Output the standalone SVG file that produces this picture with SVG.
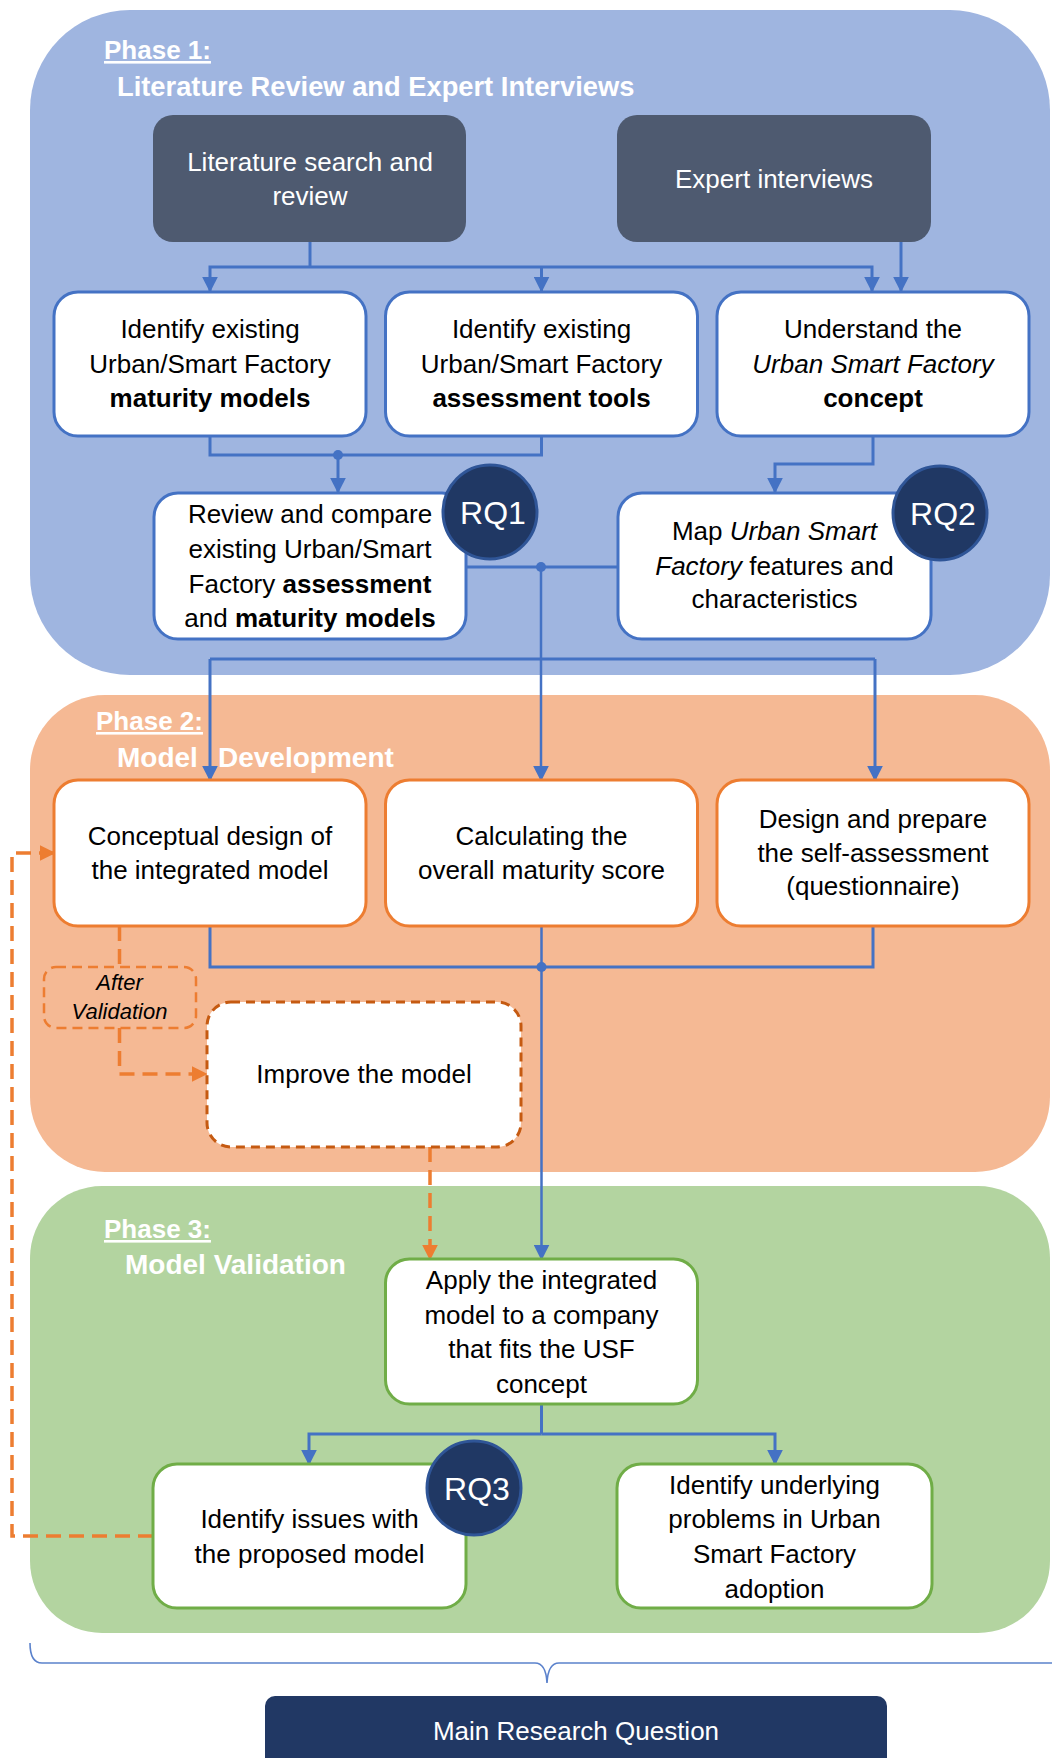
<svg xmlns="http://www.w3.org/2000/svg" width="1052" height="1758" viewBox="0 0 1052 1758">
<style>
.t{font-family:"Liberation Sans",Arial,sans-serif;font-size:26px;text-anchor:middle;fill:#000}
.w{fill:#fff}
.b{font-weight:bold}
.i{font-style:italic}
.ph{font-family:"Liberation Sans",Arial,sans-serif;font-weight:bold;fill:#fff;font-size:26px;text-decoration:underline}
.pt{font-family:"Liberation Sans",Arial,sans-serif;font-weight:bold;fill:#fff;font-size:28px}
.nb{fill:#fff;stroke:#4472C4;stroke-width:3}
.no{fill:#fff;stroke:#ED7D31;stroke-width:3}
.ng{fill:#fff;stroke:#70AD47;stroke-width:3}
.dk{fill:#4E5A70}
.rq{fill:#203864;stroke:#2F5597;stroke-width:3}
.rqt{font-family:"Liberation Sans",Arial,sans-serif;font-size:32px;text-anchor:middle;fill:#fff}
.cb{fill:none;stroke:#4472C4;stroke-width:3}
.cbt{fill:none;stroke:#4472C4;stroke-width:2.5}
.co{fill:none;stroke:#ED7D31;stroke-width:3.5;stroke-dasharray:15 8}
.dot{fill:#4472C4}
</style>
<defs>
<marker id="ab" viewBox="0 0 10 10" refX="9" refY="5" markerWidth="16" markerHeight="16" markerUnits="userSpaceOnUse" orient="auto"><path d="M0,0 L10,5 L0,10 z" fill="#4472C4"/></marker>
<marker id="ao" viewBox="0 0 10 10" refX="9" refY="5" markerWidth="16" markerHeight="16" markerUnits="userSpaceOnUse" orient="auto"><path d="M0,0 L10,5 L0,10 z" fill="#ED7D31"/></marker>
</defs>

<g id="phases">
<g id="phase1">
<rect x="30" y="10" width="1020" height="665" rx="100" fill="#9FB5E0"/>
<text class="ph" x="104" y="59">Phase 1:</text>
<text class="pt" x="117" y="96" style="font-size:27.3px">Literature Review and Expert Interviews</text>
</g>
<g id="phase2">
<rect x="30" y="695" width="1020" height="477" rx="75" fill="#F5B994"/>
<text class="ph" x="96" y="730">Phase 2:</text>
<text class="pt" x="117" y="767">Model <tspan x="218">Development</tspan></text>
</g>
<g id="phase3">
<rect x="30" y="1186" width="1020" height="447" rx="72" fill="#B3D4A0"/>
<text class="ph" x="104" y="1238">Phase 3:</text>
<text class="pt" x="125" y="1274">Model Validation</text>
</g>
</g>

<g id="connectors">
<path class="cb" d="M310 242 V267"/>
<path class="cb" d="M310 267 H210 V291" marker-end="url(#ab)"/>
<path class="cb" d="M310 267 H872 V291" marker-end="url(#ab)"/>
<path class="cb" d="M541.5 267 V291" marker-end="url(#ab)"/>
<path class="cb" d="M901 242 V291" marker-end="url(#ab)"/>
<path class="cb" d="M210 436 V455 H541.5 V436"/>
<circle class="dot" cx="338" cy="455" r="5"/>
<path class="cb" d="M338 455 V492" marker-end="url(#ab)"/>
<path class="cb" d="M873 436 V464 H775 V492" marker-end="url(#ab)"/>
<path class="cb" d="M466 567 H618"/>
<circle class="dot" cx="541" cy="567" r="5"/>
<path class="cbt" d="M541 567 V780" marker-end="url(#ab)"/>
<path class="cb" d="M210 659 H875"/>
<path class="cb" d="M210 659 V780" marker-end="url(#ab)"/>
<path class="cb" d="M875 659 V780" marker-end="url(#ab)"/>
<path class="cb" d="M210 926 V967 H873 V926"/>
<path class="cbt" d="M541.5 926 V967"/>
<circle class="dot" cx="541.5" cy="967" r="5"/>
<path class="cbt" d="M541.5 967 V1259" marker-end="url(#ab)"/>
<path class="cb" d="M541.5 1404 V1434"/>
<path class="cb" d="M541.5 1434 H309 V1464" marker-end="url(#ab)"/>
<path class="cb" d="M541.5 1434 H775 V1464" marker-end="url(#ab)"/>
<path class="co" d="M119.5 926 V967"/>
<path class="co" d="M119.5 1028 V1074 H206" marker-end="url(#ao)"/>
<path class="co" d="M430 1147 V1259" marker-end="url(#ao)"/>
<path class="co" d="M153 1536 H12 V853 H54" marker-end="url(#ao)"/>
<path d="M30 1643 Q30 1663 42 1663 H535 Q546 1663 547 1683 Q548 1663 559 1663 H1052" fill="none" stroke="#5B82CC" stroke-width="1.6"/>
</g>

<g id="lit-search">
<rect class="dk" x="153" y="115" width="313" height="127" rx="20"/>
<text class="t w" x="310" y="171">Literature search and</text>
<text class="t w" x="310" y="205">review</text>
</g>
<g id="expert-interviews">
<rect class="dk" x="617" y="115" width="314" height="127" rx="20"/>
<text class="t w" x="774" y="188">Expert interviews</text>
</g>

<g id="identify-maturity">
<rect class="nb" x="54" y="292" width="312" height="144" rx="24"/>
<text class="t" x="210" y="338">Identify existing</text>
<text class="t" x="210" y="373">Urban/Smart Factory</text>
<text class="t b" x="210" y="407">maturity models</text>
</g>
<g id="identify-tools">
<rect class="nb" x="385.5" y="292" width="312" height="144" rx="24"/>
<text class="t" x="541.5" y="338">Identify existing</text>
<text class="t" x="541.5" y="373">Urban/Smart Factory</text>
<text class="t b" x="541.5" y="407">assessment tools</text>
</g>
<g id="understand-usf">
<rect class="nb" x="717" y="292" width="312" height="144" rx="24"/>
<text class="t" x="873" y="338">Understand the</text>
<text class="t i" x="873" y="373">Urban Smart Factory</text>
<text class="t b" x="873" y="407">concept</text>
</g>

<g id="review-compare">
<rect class="nb" x="154" y="493" width="312" height="146" rx="24"/>
<text class="t" x="310" y="523">Review and compare</text>
<text class="t" x="310" y="558">existing Urban/Smart</text>
<text class="t" x="310" y="593">Factory <tspan class="b">assessment</tspan></text>
<text class="t" x="310" y="627">and <tspan class="b">maturity models</tspan></text>
</g>
<g id="rq1">
<circle class="rq" cx="490" cy="512" r="47"/>
<text class="rqt" x="493" y="524">RQ1</text>
</g>
<g id="map-usf">
<rect class="nb" x="618" y="493" width="313" height="146" rx="24"/>
<text class="t" x="774.5" y="540">Map <tspan class="i">Urban Smart</tspan></text>
<text class="t" x="774.5" y="575"><tspan class="i">Factory</tspan> features and</text>
<text class="t" x="774.5" y="608">characteristics</text>
</g>
<g id="rq2">
<circle class="rq" cx="940" cy="513" r="47"/>
<text class="rqt" x="943" y="525">RQ2</text>
</g>

<g id="conceptual-design">
<rect class="no" x="54" y="780" width="312" height="146" rx="24"/>
<text class="t" x="210" y="845">Conceptual design of</text>
<text class="t" x="210" y="879">the integrated model</text>
</g>
<g id="maturity-score">
<rect class="no" x="385.5" y="780" width="312" height="146" rx="24"/>
<text class="t" x="541.5" y="845">Calculating the</text>
<text class="t" x="541.5" y="879">overall maturity score</text>
</g>
<g id="self-assessment">
<rect class="no" x="717" y="780" width="312" height="146" rx="24"/>
<text class="t" x="873" y="828">Design and prepare</text>
<text class="t" x="873" y="862">the self-assessment</text>
<text class="t" x="873" y="895">(questionnaire)</text>
</g>
<g id="after-validation">
<rect x="44" y="967" width="152" height="61" rx="12" fill="none" stroke="#ED7D31" stroke-width="2.5" stroke-dasharray="10 6"/>
<text class="t i" x="119.5" y="990" style="font-size:22px">After</text>
<text class="t i" x="119.5" y="1019" style="font-size:22px">Validation</text>
</g>
<g id="improve-model">
<rect x="207" y="1002" width="314" height="145" rx="24" fill="#fff" stroke="#C55A11" stroke-width="3" stroke-dasharray="9 6"/>
<text class="t" x="364" y="1083">Improve the model</text>
</g>

<g id="apply-model">
<rect class="ng" x="385.5" y="1259" width="312" height="145" rx="24"/>
<text class="t" x="541.5" y="1289">Apply the integrated</text>
<text class="t" x="541.5" y="1324">model to a company</text>
<text class="t" x="541.5" y="1358">that fits the USF</text>
<text class="t" x="541.5" y="1393">concept</text>
</g>
<g id="identify-issues">
<rect class="ng" x="153" y="1464" width="313" height="144" rx="24"/>
<text class="t" x="309.5" y="1528">Identify issues with</text>
<text class="t" x="309.5" y="1563">the proposed model</text>
</g>
<g id="rq3">
<circle class="rq" cx="474" cy="1488" r="47"/>
<text class="rqt" x="477" y="1500">RQ3</text>
</g>
<g id="identify-problems">
<rect class="ng" x="617" y="1464" width="315" height="144" rx="24"/>
<text class="t" x="774.5" y="1494">Identify underlying</text>
<text class="t" x="774.5" y="1528">problems in Urban</text>
<text class="t" x="774.5" y="1563">Smart Factory</text>
<text class="t" x="774.5" y="1598">adoption</text>
</g>

<g id="main-question">
<rect x="265" y="1696" width="622" height="90" rx="10" fill="#213864"/>
<text class="t w" x="576" y="1740">Main Research Question</text>
</g>
</svg>
